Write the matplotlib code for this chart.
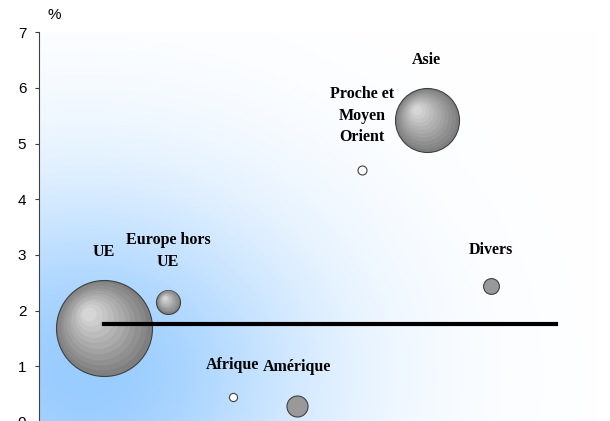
import numpy as np
import matplotlib.pyplot as plt
from matplotlib.transforms import offset_copy

# regions, growth (%) and weight (bubble size)
regions = ['UE', 'Europe hors\nUE', 'Afrique', 'Amérique', 'Proche et\nMoyen\nOrient', 'Asie', 'Divers']
x_pos = [1, 2, 3, 4, 5, 6, 7]
growth = [1.69, 2.16, 0.44, 0.29, 4.53, 5.43, 2.44]
weight = [62.5, 3.9, 0.45, 3.0, 0.55, 27.8, 1.7]

# average line
avg_x = [1, 8]
avg_y = [1.76, 1.76]

fig = plt.figure(figsize=(6.1, 4.21), dpi=100)
ax = fig.add_axes([0.064, -0.002, 0.916, 0.9253])
ax.set_xlim(0, 8.65)
ax.set_ylim(0, 7)

# soft blue glow from the bottom-left corner fading to white
u = np.linspace(0, 1, 400)
v = np.linspace(0, 1, 400)
U, V = np.meshgrid(u, v)
r2 = ((U - 0.08) / 0.62) ** 2 + ((V - 0.12) / 0.72) ** 2
t = 1 - np.exp(-r2 / 0.45)
blue = np.array([0.60, 0.80, 1.0])
white = np.array([1.0, 1.0, 1.0])
img = blue[None, None, :] * (1 - t[..., None]) + white[None, None, :] * t[..., None]
ax.imshow(img, extent=[0, 8.65, 0, 7], origin='lower', aspect='auto', zorder=0)

k = 76.4  # pt^2 per weight unit
for xi, yi, w, name in zip(x_pos, growth, weight, regions):
    s = w * k
    r_pt = np.sqrt(s) / 2
    if w > 3.5:
        ax.scatter(xi, yi, s=s, color='#7f7f7f', edgecolor='#404040', linewidth=0.8, zorder=3)
        for f in np.linspace(0.92, 0.15, 10):
            off = (1 - f) * 0.35 * r_pt
            tr = offset_copy(ax.transData, fig=fig, x=-off, y=off, units='points')
            g = 0.50 + (1 - f) * 0.40
            ax.scatter(xi, yi, s=s * f ** 2, color=(g, g, g), linewidth=0, transform=tr, zorder=3)
    elif w > 1:
        ax.scatter(xi, yi, s=s, color='#999999', edgecolor='#404040', linewidth=0.8, zorder=3)
    else:
        ax.scatter(xi, yi, s=s, color='white', edgecolor='#404040', linewidth=0.8, zorder=3)
    ax.annotate(name, (xi, yi), xytext=(0, r_pt + 14.5), textcoords='offset points',
                ha='center', va='bottom', multialignment='center', linespacing=1.45,
                fontsize=11.5, fontweight='bold', family='Liberation Serif', zorder=5)

ax.plot(avg_x, avg_y, color='black', linewidth=3, zorder=4)

ax.set_xticks([])
ax.set_yticks(range(0, 8))
ax.tick_params(axis='y', length=3.2, width=0.8, color='#404040', pad=6, labelsize=11)
for lab in ax.get_yticklabels():
    lab.set_family('Liberation Sans')
for sp in ['top', 'right', 'bottom']:
    ax.spines[sp].set_visible(False)
ax.spines['left'].set_color('#404040')
ax.spines['left'].set_linewidth(0.8)
ax.text(0.016, 1.045, '%', transform=ax.transAxes, ha='left', va='center',
        fontsize=11, family='Liberation Sans')

fig.savefig('out.png', dpi=100)
